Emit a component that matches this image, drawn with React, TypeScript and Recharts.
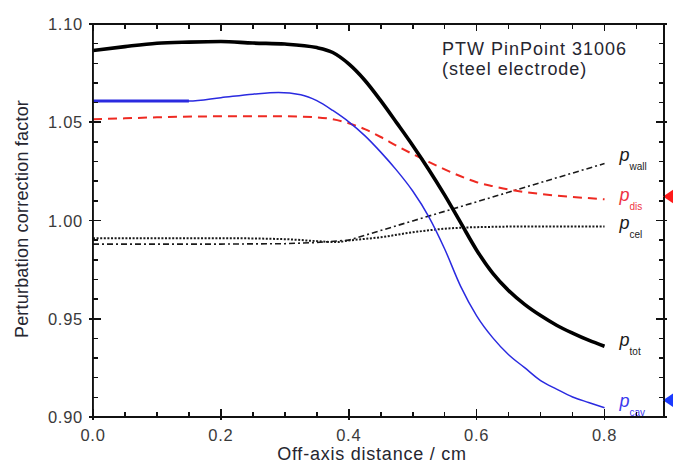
import React from 'react';
import { LineChart, Line, XAxis, YAxis, ReferenceDot, ReferenceLine, Customized } from 'recharts';

const FONT = '"Liberation Sans", Arial, Helvetica, sans-serif';

// ---------- data ----------
const xTicks = [0, 0.05, 0.1, 0.15, 0.2, 0.25, 0.3, 0.35, 0.4, 0.45, 0.5, 0.55, 0.6, 0.65, 0.7, 0.75, 0.8, 0.85];
const yTicks = [0.9, 0.91, 0.92, 0.93, 0.94, 0.95, 0.96, 0.97, 0.98, 0.99, 1.0, 1.01, 1.02, 1.03, 1.04, 1.05, 1.06, 1.07, 1.08, 1.09, 1.1];
const xDomain = [0, 0.893];
const yDomain = [0.9, 1.1];

const ptotX = [0, 0.05, 0.1, 0.15, 0.2, 0.25, 0.3, 0.35, 0.375, 0.4, 0.425, 0.45, 0.475, 0.5, 0.525, 0.55, 0.575, 0.6, 0.625, 0.65, 0.675, 0.7, 0.725, 0.75, 0.775, 0.8];
const ptotY = [1.0865, 1.0885, 1.0902, 1.0908, 1.0911, 1.0903, 1.0898, 1.088, 1.0855, 1.0797, 1.0714, 1.061, 1.0497, 1.0382, 1.026, 1.0129, 0.9989, 0.9849, 0.9732, 0.9643, 0.9573, 0.9516, 0.9467, 0.9427, 0.9391, 0.936];

const pcavX = [0, 0.05, 0.1, 0.15, 0.2, 0.25, 0.29, 0.325, 0.35, 0.375, 0.4, 0.425, 0.45, 0.475, 0.5, 0.525, 0.55, 0.575, 0.6, 0.625, 0.65, 0.675, 0.7, 0.725, 0.75, 0.775, 0.8];
const pcavY = [1.0608, 1.0608, 1.0608, 1.0608, 1.0625, 1.0643, 1.0652, 1.064, 1.061, 1.056, 1.0502, 1.0432, 1.0348, 1.0255, 1.015, 1.002, 0.9855, 0.9665, 0.9515, 0.9404, 0.9317, 0.9251, 0.9185, 0.9142, 0.9102, 0.9074, 0.9047];

const pdisX = [0, 0.05, 0.1, 0.2, 0.3, 0.35, 0.375, 0.4, 0.425, 0.45, 0.475, 0.5, 0.525, 0.55, 0.575, 0.6, 0.625, 0.65, 0.675, 0.7, 0.75, 0.8];
const pdisY = [1.0515, 1.052, 1.0525, 1.053, 1.053, 1.0525, 1.0515, 1.0495, 1.0465, 1.0425, 1.038, 1.0338, 1.0298, 1.026, 1.0225, 1.0195, 1.0175, 1.0158, 1.0145, 1.0135, 1.012, 1.0108];

const pwallX = [0, 0.1, 0.2, 0.3, 0.35, 0.4, 0.5, 0.6, 0.7, 0.8];
const pwallY = [0.988, 0.988, 0.988, 0.9882, 0.9888, 0.99, 0.9998, 1.0095, 1.0193, 1.029];

const pcelX = [0, 0.1, 0.2, 0.3, 0.35, 0.38, 0.4, 0.45, 0.5, 0.55, 0.6, 0.7, 0.8];
const pcelY = [0.991, 0.991, 0.991, 0.9905, 0.9895, 0.989, 0.9898, 0.9915, 0.994, 0.9958, 0.9966, 0.997, 0.997];

const arrowValues = [1.0122, 0.9085];

const titleLines = ['PTW PinPoint 31006', '(steel electrode)'];
const xTitle = 'Off-axis distance / cm';
const yTitle = 'Perturbation correction factor';

// ---------- styles ----------
const rows = (xs: number[], ys: number[]) => xs.map((x, i) => ({ x, y: ys[i] }));

const series = [
  { key: 'wall', sub: 'wall', xs: pwallX, ys: pwallY, color: '#1a1a1a', width: 1.6, dash: '6 3 2 3', type: 'linear', labelColor: '#1a1a1a', dy: -3 },
  { key: 'cel', sub: 'cel', xs: pcelX, ys: pcelY, color: '#1a1a1a', width: 2, dash: '2 1.6', type: 'monotone', labelColor: '#1a1a1a', dy: 3 },
  { key: 'dis', sub: 'dis', xs: pdisX, ys: pdisY, color: '#ee2a22', width: 2, dash: '9 6', type: 'monotone', labelColor: '#ee3344', dy: 2 },
  { key: 'cav', sub: 'cav', xs: pcavX, ys: pcavY, color: '#2a2ae0', width: 1.5, dash: undefined, type: 'monotone', labelColor: '#3a3aee', dy: -1 },
  { key: 'tot', sub: 'tot', xs: ptotX, ys: ptotY, color: '#000000', width: 3.6, dash: undefined, type: 'monotone', labelColor: '#1a1a1a', dy: 0 },
];
const arrowColors = ['#ff1a1a', '#1a3aff'];

const isMajor = (v: number, step: number) => Math.abs(v / step - Math.round(v / step)) < 1e-6;
const labelStyle = { fontFamily: FONT, fontSize: 16.5, fill: '#3a3a3a', letterSpacing: 0.75 };

// plot rectangle (layout: chart margins + axis sizes)
const PLOT = { left: 93, top: 24, right: 664, bottom: 417 };
const sx = (v: number) => PLOT.left + ((v - xDomain[0]) / (xDomain[1] - xDomain[0])) * (PLOT.right - PLOT.left);
const sy = (v: number) => PLOT.bottom - ((v - yDomain[0]) / (yDomain[1] - yDomain[0])) * (PLOT.bottom - PLOT.top);

const BottomTick = (p: any) => {
  const v = p.payload.value;
  if (!isMajor(v, 0.2)) return <g />;
  return (
    <text x={p.x} y={p.y + 24} textAnchor="middle" {...labelStyle}>{v.toFixed(1)}</text>
  );
};
const LeftTick = (p: any) => {
  const v = p.payload.value;
  if (!isMajor(v, 0.05)) return <g />;
  return (
    <text x={p.x - 10} y={p.y + 6} textAnchor="end" {...labelStyle}>{v.toFixed(2)}</text>
  );
};

// tick-mark rectangles for the overlay
const TW = 1.6;
const tickRects: { left: number; top: number; width: number; height: number }[] = [];
xTicks.forEach((v) => {
  const m = isMajor(v, 0.2);
  const x = sx(v);
  const inn = m ? 8 : 5;
  const out = m ? 3 : 0;
  tickRects.push({ left: x - TW / 2, top: PLOT.bottom - inn, width: TW, height: inn + out });
  tickRects.push({ left: x - TW / 2, top: PLOT.top, width: TW, height: m ? 7 : 5 });
});
yTicks.forEach((v) => {
  const m = isMajor(v, 0.05);
  const y = sy(v);
  const inn = m ? 8 : 5;
  const out = m ? 3 : 0;
  tickRects.push({ left: PLOT.left - (m ? 4 : 0), top: y - TW / 2, width: inn + (m ? 4 : 0), height: TW });
  tickRects.push({ left: PLOT.right - inn, top: y - TW / 2, width: inn + out, height: TW });
});

const FrameTicks = () => (
  <g>
    <line x1={PLOT.left} y1={PLOT.top} x2={PLOT.right} y2={PLOT.top} stroke="#111111" strokeWidth={1.9} />
    <line x1={PLOT.right} y1={PLOT.top} x2={PLOT.right} y2={PLOT.bottom} stroke="#111111" strokeWidth={1.9} />
  </g>
);

const Annotations = () => (
  <g fontFamily={FONT}>
    <text x={442} y={55} fontSize={18} letterSpacing={1.0} fill="#262630">{titleLines[0]}</text>
    <text x={442} y={75} fontSize={18} letterSpacing={0.95} fill="#262630">{titleLines[1]}</text>
    <text x={372} y={460} fontSize={18} letterSpacing={0.77} fill="#262630" textAnchor="middle">{xTitle}</text>
    <text transform="translate(28,219) rotate(-90)" fontSize={18} letterSpacing={0.2} fill="#262630" textAnchor="middle">{yTitle}</text>
  </g>
);

const makeEndLabel = (sub: string, color: string, dy: number) => (p: any) => (
  <text x={p.cx + 15} y={p.cy + dy} fill={color} fontFamily={FONT}>
    <tspan fontStyle="italic" fontSize={18}>p</tspan>
    <tspan fontSize={10} dy={9}>{sub}</tspan>
  </text>
);

const makeArrow = (color: string) => (p: any) => (
  <path d={`M ${p.cx - 1} ${p.cy} L ${p.cx + 10} ${p.cy - 7.5} L ${p.cx + 10} ${p.cy + 7.5} Z`} fill={color} />
);

export default function App() {
  const cavRows = rows(pcavX, pcavY);
  return (
    <div style={{ position: 'absolute', left: 0, top: 0, width: 673, height: 463, background: '#fff' }}>
      <LineChart width={673} height={463} margin={{ top: 24, right: 9, bottom: 0, left: 0 }}>
        <XAxis
          dataKey="x"
          type="number"
          domain={xDomain}
          allowDataOverflow
          ticks={xTicks}
          interval={0}
          height={46}
          tickSize={0}
          tickMargin={0}
          tickLine={false}
          axisLine={{ stroke: '#111111', strokeWidth: 1.8 }}
          tick={<BottomTick />}
        />
        <YAxis
          type="number"
          domain={yDomain}
          allowDataOverflow
          ticks={yTicks}
          interval={0}
          width={93}
          tickSize={0}
          tickMargin={0}
          tickLine={false}
          axisLine={{ stroke: '#111111', strokeWidth: 1.8 }}
          tick={<LeftTick />}
        />
        <ReferenceLine y={1.1} stroke="#111111" strokeWidth={1.8} ifOverflow="visible" />
        <ReferenceLine x={0.893} stroke="#111111" strokeWidth={1.8} ifOverflow="visible" />
        {series.map((s) => (
          <Line
            key={s.key}
            data={rows(s.xs, s.ys)}
            dataKey="y"
            type={s.type as any}
            stroke={s.color}
            strokeWidth={s.width}
            strokeDasharray={s.dash}
            dot={false}
            activeDot={false}
            isAnimationActive={false}
          />
        ))}
        <Line
          key="cavThick"
          data={cavRows.filter((r) => r.x <= 0.15)}
          dataKey="y"
          type="linear"
          stroke="#2a2ae0"
          strokeWidth={3}
          dot={false}
          activeDot={false}
          isAnimationActive={false}
        />
        {series.map((s) => (
          <ReferenceDot
            key={'lbl-' + s.key}
            x={s.xs[s.xs.length - 1]}
            y={s.ys[s.ys.length - 1]}
            r={0}
            ifOverflow="visible"
            shape={makeEndLabel(s.sub, s.labelColor, s.dy)}
          />
        ))}
        {arrowValues.map((v, i) => (
          <ReferenceDot
            key={'arrow-' + i}
            x={xDomain[1]}
            y={v}
            r={0}
            ifOverflow="visible"
            shape={makeArrow(arrowColors[i])}
          />
        ))}
        <Customized component={FrameTicks} />
        <Customized component={Annotations} />
      </LineChart>
      <div
        style={{
          position: 'absolute',
          left: PLOT.left - 0.9,
          top: PLOT.top - 0.9,
          width: PLOT.right - PLOT.left + 1.8,
          height: PLOT.bottom - PLOT.top + 1.8,
          border: '1.8px solid #111111',
          boxSizing: 'border-box',
          pointerEvents: 'none',
          zIndex: 10,
        }}
      />
      {tickRects.map((r, i) => (
        <div
          key={'tk' + i}
          style={{
            position: 'absolute',
            left: r.left,
            top: r.top,
            width: r.width,
            height: r.height,
            background: '#111111',
            pointerEvents: 'none',
            zIndex: 11,
          }}
        />
      ))}
    </div>
  );
}
